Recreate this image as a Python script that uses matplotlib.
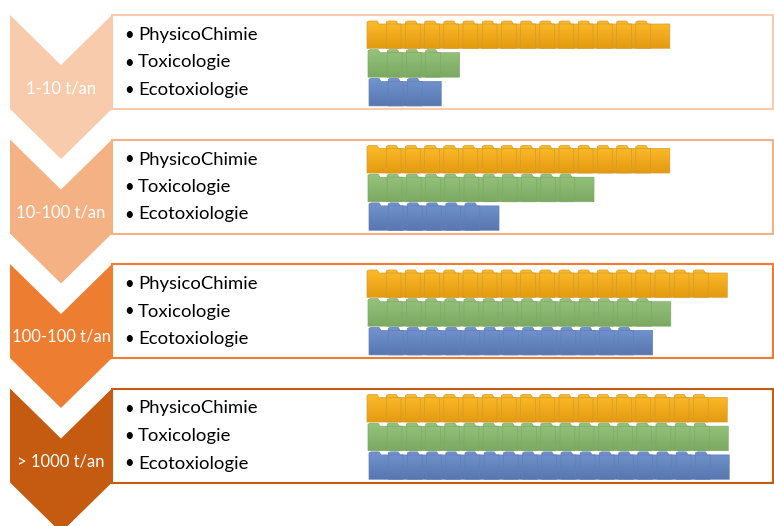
import numpy as np
import matplotlib.pyplot as plt
from matplotlib.patches import Polygon, Rectangle
from matplotlib.colors import to_rgb

# data
tonnages = ["1-10 t/an", "10-100 t/an", "100-100 t/an", "> 1000 t/an"]
studies = ["PhysicoChimie", "Toxicologie", "Ecotoxiologie"]
physico = [15, 15, 18, 18]
toxico = [4, 11, 15, 18]
ecotox = [3, 6, 14, 18]

chevron_colors = ["#F8CBAD", "#F4B183", "#ED7D31", "#C55A11"]
# folder gradient (top, bottom, edge)
folder_colors = [("#FDBC2C", "#E49B10", "#D69A2A"),
                 ("#96C47C", "#7CA962", "#7FA968"),
                 ("#7394CF", "#5877B0", "#6180B6")]

fig = plt.figure(figsize=(7.74, 5.26), dpi=100)
ax = fig.add_axes([0, 0, 1, 1])
ax.set_xlim(0, 774)
ax.set_ylim(526, 0)
ax.axis("off")

font = "Lato"
step = 124.5
xl, xr = 10, 112
pitch, fw, tw, th = 19.2, 34, 12, 3
bar_x = [367, 368, 369]


def folder(x0, yt, yb, cols, z):
    top, bot, edge = cols
    poly = [(x0, yb), (x0, yt - th + 1), (x0 + 2, yt - th), (x0 + tw - 2, yt - th),
            (x0 + tw, yt), (x0 + fw, yt), (x0 + fw, yb)]
    p = Polygon(poly, closed=True, facecolor="none", edgecolor=edge,
                lw=0.5, zorder=z + 0.5)
    ax.add_patch(p)
    c1 = np.array(to_rgb(top))
    c2 = np.array(to_rgb(bot))
    t = np.linspace(0, 1, 30)[:, None]
    grad = (c1 * (1 - t) + c2 * t)[:, None, :]
    im = ax.imshow(grad, extent=(x0, x0 + fw, yb, yt - th), aspect="auto",
                   origin="upper", zorder=z, interpolation="bilinear")
    im.set_clip_path(p)


for i, lab in enumerate(tonnages):
    y0 = 15 + i * step
    y1 = y0 + 94
    col = chevron_colors[i]
    # chevron
    cx = (xl + xr) / 2
    chev = [(xl, y0), (cx, y0 + 50), (xr, y0), (xr, y1), (cx, y1 + 50), (xl, y1)]
    ax.add_patch(Polygon(chev, closed=True, facecolor=col, edgecolor="none", zorder=1))
    ax.text(cx, y0 + 73, lab, color="white", fontsize=12, family=font,
            ha="center", va="center", zorder=3)
    # box
    ax.add_patch(Rectangle((xr, y0), 773 - xr, y1 - y0, facecolor="white",
                           edgecolor=col, lw=1.5, zorder=2))
    # bullet text
    for k, s in enumerate(studies):
        ty = y0 + 20 + k * 27.5
        ax.text(124, ty, "\u2022", fontsize=12, family=font, ha="left",
                va="center", zorder=3)
        ax.text(138, ty, s, fontsize=13.3, family=font, ha="left",
                va="center", zorder=3)
    # folder bars
    for k, vals in enumerate([physico, toxico, ecotox]):
        yt = y0 + 9 + k * 28.7
        yb = yt + 24.5
        for j in range(vals[i]):
            folder(bar_x[k] + j * pitch, yt, yb, folder_colors[k], 4 + j * 0.01 + k)

fig.savefig("out.png", dpi=100, facecolor="white")
